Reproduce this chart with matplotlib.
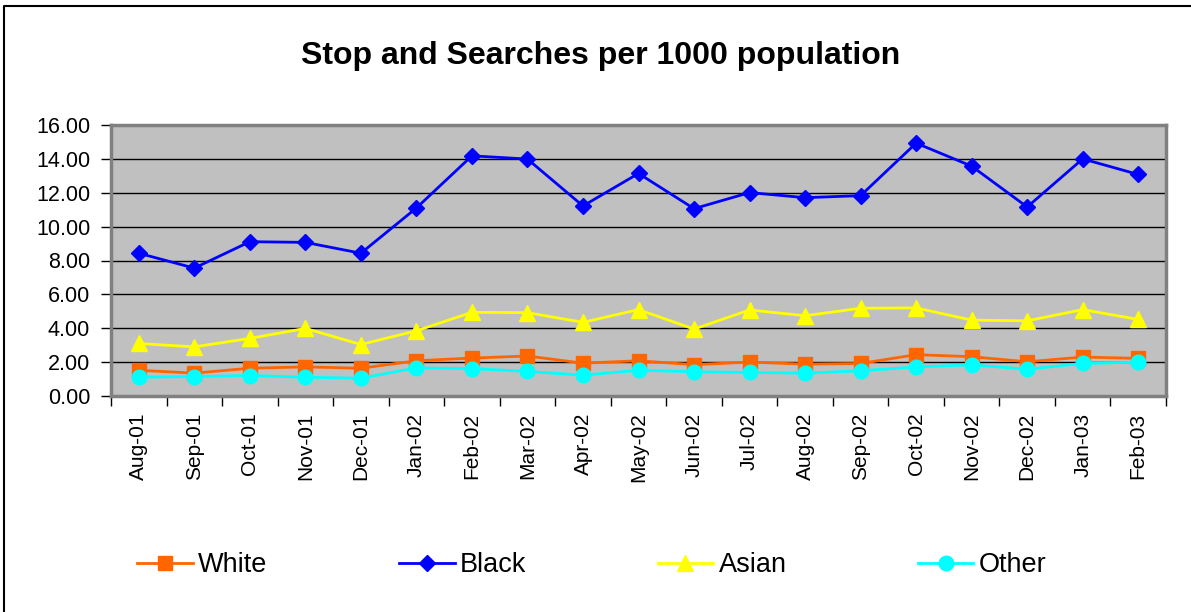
import matplotlib
matplotlib.use("Agg")
import matplotlib.pyplot as plt
from matplotlib.lines import Line2D

plt.rcParams['font.family'] = ['Liberation Sans', 'DejaVu Sans']

months = ['Aug-01', 'Sep-01', 'Oct-01', 'Nov-01', 'Dec-01', 'Jan-02',
          'Feb-02', 'Mar-02', 'Apr-02', 'May-02', 'Jun-02', 'Jul-02',
          'Aug-02', 'Sep-02', 'Oct-02', 'Nov-02', 'Dec-02', 'Jan-03',
          'Feb-03']

white = [1.52, 1.35, 1.64, 1.72, 1.64, 2.08, 2.24, 2.36, 1.94, 2.08,
         1.85, 2.00, 1.88, 1.92, 2.44, 2.32, 2.02, 2.30, 2.22]
black = [8.43, 7.55, 9.11, 9.07, 8.43, 11.10, 14.18, 13.99, 11.22, 13.14,
         11.06, 12.01, 11.71, 11.83, 14.93, 13.57, 11.16, 14.00, 13.08]
asian = [3.10, 2.90, 3.40, 3.99, 3.04, 3.85, 4.94, 4.92, 4.35, 5.10,
         3.95, 5.08, 4.74, 5.18, 5.20, 4.48, 4.44, 5.10, 4.52]
other = [1.11, 1.15, 1.21, 1.11, 1.05, 1.66, 1.62, 1.45, 1.23, 1.52,
         1.43, 1.39, 1.35, 1.49, 1.72, 1.84, 1.58, 1.92, 2.00]

series = [
    ('White', white, '#FF6600', 's', 10),
    ('Black', black, '#0000FF', 'D', 8.5),
    ('Asian', asian, '#FFFF00', '^', 11),
    ('Other', other, '#00FFFF', 'o', 10.5),
]

W, H = 1191, 612
fig = plt.figure(figsize=(W / 100, H / 100), dpi=100)
fig.patch.set_facecolor('white')

# chart frame: only the left and top edges fall inside the image
fig.lines.append(Line2D([4 / W, 4 / W, 1], [0, 1 - 6 / H, 1 - 6 / H],
                        transform=fig.transFigure, color='black', lw=1.5))

ax = fig.add_axes([111 / W, 1 - 396 / H, 1055 / W, 271 / H])
ax.set_facecolor('#C0C0C0')

x = list(range(len(months)))
for name, vals, color, marker, ms in series:
    ax.plot(x, vals, color=color, lw=2, marker=marker, ms=ms,
            markerfacecolor=color, markeredgecolor=color, label=name,
            zorder=3, clip_on=False)

ax.set_xlim(-0.5, len(months) - 0.5)
ax.set_ylim(0, 16)
ax.set_yticks(range(0, 17, 2))
ax.set_yticklabels([f'{v:.2f}' for v in range(0, 17, 2)])
ax.yaxis.grid(True, color='black', lw=1)
ax.set_axisbelow(True)

# categories sit between tick marks
ax.set_xticks([i - 0.5 for i in range(len(months) + 1)])
ax.set_xticklabels([])
ax.set_xticks(x, minor=True)
ax.set_xticklabels(months, minor=True, rotation=90, fontsize=15)
ax.tick_params(axis='x', which='minor', length=0, pad=12)
ax.tick_params(axis='x', which='major', length=7, width=1, color='black')
ax.tick_params(axis='y', length=7, width=1, color='black', labelsize=15.5,
               pad=8)

for s in ax.spines.values():
    s.set_color('#808080')
    s.set_linewidth(2.5)

fig.text(601 / W, 1 - 64 / H, 'Stop and Searches per 1000 population',
         ha='center', va='baseline', fontsize=23, fontweight='bold')

fig.legend(loc='center', bbox_to_anchor=(592 / W, 1 - 565 / H), ncol=4,
           frameon=False, fontsize=19.5, handlelength=2.05, handletextpad=0.2,
           columnspacing=4.85, borderaxespad=0)

fig.savefig('out.png', dpi=100)
